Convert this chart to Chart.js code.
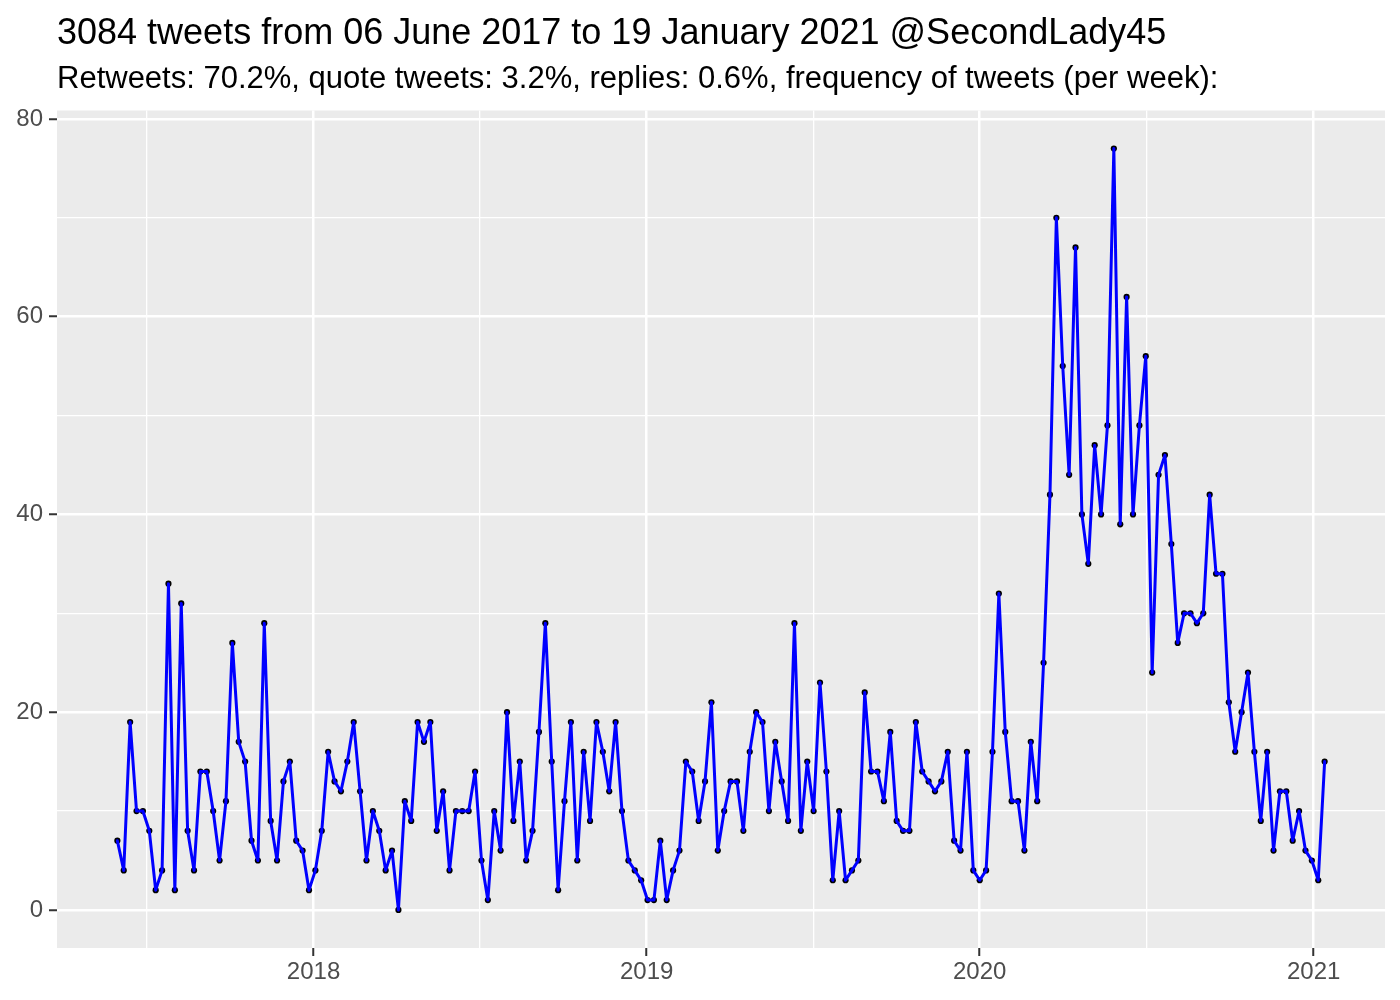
<!DOCTYPE html>
<html><head><meta charset="utf-8">
<script src="https://cdn.jsdelivr.net/npm/chart.js@4.4.1/dist/chart.umd.min.js"></script>
<style>html,body{margin:0;padding:0;background:#fff}canvas{display:block}</style>
</head><body>
<canvas id="c" width="1400" height="1000"></canvas>
<script>
const titleText = "3084 tweets from 06 June 2017 to 19 January 2021 @SecondLady45";
const subtitleText = "Retweets: 70.2%, quote tweets: 3.2%, replies: 0.6%, frequency of tweets (per week):";
const firstWeekStart = "2017-05-31";
const tweetsPerWeek = [
  7,4,19,10,10,8,2,4,33,2,
  31,8,4,14,14,10,5,11,27,17,
  15,7,5,29,9,5,13,15,7,6,
  2,4,8,16,13,12,15,19,12,5,
  10,8,4,6,0,11,9,19,17,19,
  8,12,4,10,10,10,14,5,1,10,
  6,20,9,15,5,8,18,29,15,2,
  11,19,5,16,9,19,16,12,19,10,
  5,4,3,1,1,7,1,4,6,15,
  14,9,13,21,6,10,13,13,8,16,
  20,19,10,17,13,9,29,8,15,10,
  23,14,3,10,3,4,5,22,14,14,
  11,18,9,8,8,19,14,13,12,13,
  16,7,6,16,4,3,4,16,32,18,
  11,11,6,17,11,25,42,70,55,44,
  67,40,35,47,40,49,77,39,62,40,
  49,56,24,44,46,37,27,30,30,29,
  30,42,34,34,21,16,20,24,16,9,
  16,6,12,12,7,10,6,5,3,15
];
const xTickYears = [2018, 2019, 2020, 2021];
const yMajorTicks = [0, 20, 40, 60, 80];
const yMinorTicks = [10, 30, 50, 70];

const DAY = 86400000;
const t0 = Date.parse(firstWeekStart + "T00:00:00Z");
const points = tweetsPerWeek.map((v, i) => ({ x: t0 + i * 7 * DAY, y: v }));

const xMajor = xTickYears.map(y => Date.UTC(y, 0, 1));
const xMinor = [];
xMinor.push(xMajor[0] - (xMajor[1] - xMajor[0]) / 2);
for (let i = 0; i < xMajor.length - 1; i++) xMinor.push((xMajor[i] + xMajor[i + 1]) / 2);
const xLabelMap = new Map(xMajor.map((v, i) => [v, String(xTickYears[i])]));

const xFirst = points[0].x, xLast = points[points.length - 1].x;
const xPad = (xLast - xFirst) * 0.05;
const yMaxData = Math.max(...tweetsPerWeek), yMinData = Math.min(...tweetsPerWeek);
const yPad = (yMaxData - yMinData) * 0.05;

const FONT = "'Liberation Sans', Arial, Helvetica, sans-serif";

const panelBg = {
  id: 'panelBg',
  beforeDraw(chart) {
    const { ctx, chartArea: a } = chart;
    ctx.save();
    ctx.fillStyle = '#EBEBEB';
    ctx.fillRect(a.left, a.top, a.right - a.left, a.bottom - a.top);
    ctx.restore();
  }
};
const titles = {
  id: 'titles',
  afterDraw(chart) {
    const { ctx, chartArea: a } = chart;
    ctx.save();
    ctx.fillStyle = '#000';
    ctx.textAlign = 'left';
    ctx.textBaseline = 'alphabetic';
    ctx.font = "36px " + FONT;
    ctx.fillText(titleText, a.left, 44);
    ctx.font = "31px " + FONT;
    ctx.fillText(subtitleText, a.left, 88);
    ctx.restore();
  }
};

const isMajorX = v => xLabelMap.has(v);
const isMajorY = v => yMajorTicks.includes(v);

new Chart(document.getElementById('c'), {
  type: 'scatter',
  data: {
    datasets: [
      { data: points, showLine: true, borderColor: '#0000FF', borderWidth: 3,
        borderJoinStyle: 'round', borderCapStyle: 'round',
        pointRadius: 0, fill: false, tension: 0, order: 0 },
      { data: points, showLine: false, pointRadius: 3.1, pointBackgroundColor: '#000',
        pointBorderWidth: 0, order: 1 }
    ]
  },
  options: {
    responsive: false,
    animation: false,
    devicePixelRatio: 1,
    layout: { padding: { top: 110.5, right: 15, left: 0, bottom: 0 } },
    plugins: { legend: { display: false }, tooltip: { enabled: false }, title: { display: false } },
    scales: {
      x: {
        type: 'linear',
        min: xFirst - xPad,
        max: xLast + xPad,
        afterBuildTicks: s => { s.ticks = [...xMinor, ...xMajor].map(v => ({ value: v })); },
        afterFit: s => { s.height = 52; },
        border: { display: false },
        grid: {
          color: '#FFFFFF',
          lineWidth: c => isMajorX(c.tick.value) ? 2.5 : 1.3,
          tickColor: c => isMajorX(c.tick.value) ? '#333333' : 'rgba(0,0,0,0)',
          tickLength: 8,
          tickWidth: 2
        },
        ticks: {
          autoSkip: false, maxRotation: 0, minRotation: 0, padding: 2,
          color: '#4D4D4D', font: { family: FONT, size: 24 },
          callback: v => xLabelMap.get(v) || ''
        }
      },
      y: {
        type: 'linear',
        min: yMinData - yPad,
        max: yMaxData + yPad,
        afterBuildTicks: s => { s.ticks = [...yMinorTicks, ...yMajorTicks].map(v => ({ value: v })); },
        afterFit: s => { s.width = 57; },
        border: { display: false },
        grid: {
          color: '#FFFFFF',
          lineWidth: c => isMajorY(c.tick.value) ? 2.5 : 1.3,
          tickColor: c => isMajorY(c.tick.value) ? '#333333' : 'rgba(0,0,0,0)',
          tickLength: 8,
          tickWidth: 2
        },
        ticks: {
          autoSkip: false, padding: 6,
          color: '#4D4D4D', font: { family: FONT, size: 24 },
          callback: v => isMajorY(v) ? String(v) : ''
        }
      }
    }
  },
  plugins: [panelBg, titles]
});
</script>
</body></html>
